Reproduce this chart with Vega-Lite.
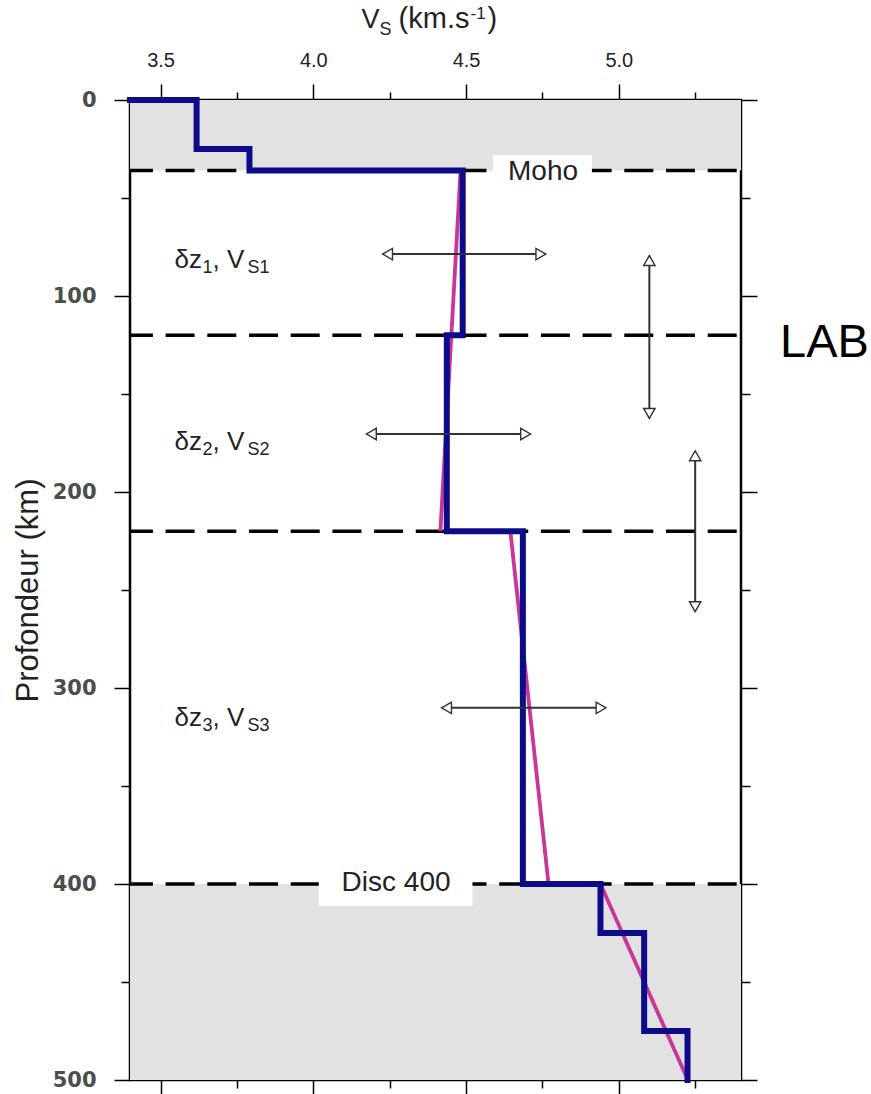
{
  "$schema": "https://vega.github.io/schema/vega-lite/v6.json",
  "width": 611,
  "height": 980,
  "autosize": {"type": "none"},
  "padding": {"left": 130, "top": 100, "right": 130, "bottom": 14},
  "background": "white",
  "config": {
    "view": {"stroke": "black", "strokeWidth": 2.5},
    "axis": {"grid": false, "domain": false, "tickColor": "black", "tickWidth": 1.5, "labelFont": "Liberation Sans", "titleFont": "Liberation Sans", "labelFlush": false}
  },
  "resolve": {"axis": {"x": "independent", "y": "independent"}},
  "datasets": {
    "zones": [
      {"v_min": 3.4, "v_max": 5.4, "top": 0, "bottom": 36},
      {"v_min": 3.4, "v_max": 5.4, "top": 400, "bottom": 500}
    ],
    "interfaces": [
      {"name": "Moho", "depth": 36},
      {"name": "LAB", "depth": 120},
      {"name": "base z2", "depth": 220},
      {"name": "Disc 400", "depth": 400}
    ],
    "label_boxes": [
      {"label": "Moho", "v_min": 4.588, "v_max": 4.912, "top": 28, "bottom": 47.4, "v": 4.752, "baseline_depth": 40.9},
      {"label": "Disc 400", "v_min": 4.018, "v_max": 4.521, "top": 386.2, "bottom": 411.2, "v": 4.271, "baseline_depth": 403.4}
    ],
    "model": [
      {"step": 0, "v": 3.4, "depth": 0},
      {"step": 1, "v": 3.618, "depth": 0},
      {"step": 2, "v": 3.618, "depth": 25},
      {"step": 3, "v": 3.791, "depth": 25},
      {"step": 4, "v": 3.791, "depth": 36},
      {"step": 5, "v": 4.489, "depth": 36},
      {"step": 6, "v": 4.489, "depth": 120},
      {"step": 7, "v": 4.437, "depth": 120},
      {"step": 8, "v": 4.437, "depth": 220},
      {"step": 9, "v": 4.686, "depth": 220},
      {"step": 10, "v": 4.686, "depth": 400},
      {"step": 11, "v": 4.94, "depth": 400},
      {"step": 12, "v": 4.94, "depth": 425},
      {"step": 13, "v": 5.083, "depth": 425},
      {"step": 14, "v": 5.083, "depth": 475},
      {"step": 15, "v": 5.225, "depth": 475},
      {"step": 16, "v": 5.225, "depth": 500}
    ],
    "gradient": [
      {"segment": "A", "v": 4.482, "depth": 36},
      {"segment": "A", "v": 4.416, "depth": 220},
      {"segment": "B", "v": 4.645, "depth": 220},
      {"segment": "B", "v": 4.77, "depth": 400},
      {"segment": "C", "v": 4.94, "depth": 400},
      {"segment": "C", "v": 5.226, "depth": 500}
    ],
    "h_arrows": [
      {"depth": 78.6, "lo": 4.227, "hi": 4.761},
      {"depth": 170.4, "lo": 4.174, "hi": 4.711},
      {"depth": 310.1, "lo": 4.42, "hi": 4.958}
    ],
    "v_arrows": [
      {"v": 5.1, "top": 79.4, "bottom": 162.4},
      {"v": 5.25, "top": 179, "bottom": 261}
    ],
    "layer_labels": [
      {"z": "δz", "n": "1", "vpart": ", V", "vsub": "S1", "v": 3.546, "depth": 85.8},
      {"z": "δz", "n": "2", "vpart": ", V", "vsub": "S2", "v": 3.546, "depth": 178.6},
      {"z": "δz", "n": "3", "vpart": ", V", "vsub": "S3", "v": 3.546, "depth": 319.6}
    ],
    "title": [
      {"main": "V", "sub": "S", "unit": "(km.s", "exp": "-1", "close": ")", "v": 4.158, "depth": -36.9}
    ],
    "side": [
      {"text": "LAB", "v": 5.528, "depth": 130.9}
    ]
  },
  "layer": [
    {
      "data": {"name": "zones"},
      "mark": {"type": "rect", "color": "#e2e2e2"},
      "encoding": {
        "x": {"field": "v_min", "type": "quantitative", "scale": {"domain": [3.4, 5.4], "nice": false, "zero": false},
          "axis": {"orient": "top", "values": [3.5, 4.0, 4.5, 5.0], "format": ".1f", "tickSize": 16, "labelFontSize": 20, "labelPadding": 14, "labelColor": "#222", "title": null}},
        "x2": {"field": "v_max"},
        "y": {"field": "top", "type": "quantitative", "scale": {"domain": [0, 500], "reverse": true, "nice": false, "zero": false},
          "axis": {"orient": "left", "values": [0, 100, 200, 300, 400, 500], "tickSize": 16, "labelPadding": 18, "labelFont": "DejaVu Sans", "labelFontWeight": "bold", "labelFontSize": 21, "labelColor": "#4d4d4d", "title": "Profondeur (km)", "titleFontSize": 31, "titleFontWeight": "normal", "titleColor": "#222", "titlePadding": 8}},
        "y2": {"field": "bottom"}
      }
    },
    {
      "data": {"name": "interfaces"},
      "mark": {"type": "rule", "color": "black", "strokeWidth": 3.5, "strokeDash": [29, 12.7], "strokeDashOffset": 37.4},
      "encoding": {
        "y": {"field": "depth", "type": "quantitative",
          "axis": {"orient": "left", "values": [50, 150, 250, 350, 450], "tickSize": 9, "labels": false, "title": null}}
      }
    },
    {
      "data": {"name": "label_boxes"},
      "mark": {"type": "rect", "color": "white"},
      "encoding": {
        "x": {"field": "v_min", "type": "quantitative",
          "axis": {"orient": "top", "values": [3.75, 4.25, 4.75, 5.25], "tickSize": 8, "labels": false, "title": null}},
        "x2": {"field": "v_max"},
        "y": {"field": "top", "type": "quantitative",
          "axis": {"orient": "right", "values": [0, 100, 200, 300, 400, 500], "tickSize": 16, "labels": false, "title": null}},
        "y2": {"field": "bottom"}
      }
    },
    {
      "data": {"name": "label_boxes"},
      "mark": {"type": "text", "font": "Liberation Sans", "fontSize": 28, "color": "#222", "align": "center", "baseline": "alphabetic"},
      "encoding": {
        "x": {"field": "v", "type": "quantitative",
          "axis": {"orient": "bottom", "values": [3.5, 4.0, 4.5, 5.0], "tickSize": 16, "labels": false, "title": null}},
        "y": {"field": "baseline_depth", "type": "quantitative",
          "axis": {"orient": "right", "values": [50, 150, 250, 350, 450], "tickSize": 9, "labels": false, "title": null}},
        "text": {"field": "label"}
      }
    },
    {
      "data": {"name": "gradient"},
      "mark": {"type": "line", "color": "#c8369a", "strokeWidth": 3.8},
      "encoding": {
        "x": {"field": "v", "type": "quantitative",
          "axis": {"orient": "bottom", "values": [3.75, 4.25, 4.75, 5.25], "tickSize": 8, "labels": false, "title": null}},
        "y": {"field": "depth", "type": "quantitative", "axis": null},
        "detail": {"field": "segment", "type": "nominal"},
        "order": {"field": "depth", "type": "quantitative"}
      }
    },
    {
      "data": {"name": "model"},
      "mark": {"type": "line", "color": "#0c0c8a", "strokeWidth": 6, "strokeJoin": "miter", "strokeCap": "square"},
      "encoding": {
        "x": {"field": "v", "type": "quantitative", "axis": null},
        "y": {"field": "depth", "type": "quantitative", "axis": null},
        "order": {"field": "step", "type": "quantitative"}
      }
    },
    {
      "data": {"name": "h_arrows"},
      "mark": {"type": "rule", "color": "#333", "strokeWidth": 2},
      "encoding": {
        "x": {"field": "lo", "type": "quantitative", "axis": null},
        "x2": {"field": "hi"},
        "y": {"field": "depth", "type": "quantitative", "axis": null}
      }
    },
    {
      "data": {"name": "h_arrows"},
      "mark": {"type": "point", "shape": "triangle-left", "filled": true, "fill": "white", "stroke": "#333", "strokeWidth": 1.4, "size": 130, "opacity": 1, "xOffset": 4.9},
      "encoding": {
        "x": {"field": "lo", "type": "quantitative", "axis": null},
        "y": {"field": "depth", "type": "quantitative", "axis": null}
      }
    },
    {
      "data": {"name": "h_arrows"},
      "mark": {"type": "point", "shape": "triangle-right", "filled": true, "fill": "white", "stroke": "#333", "strokeWidth": 1.4, "size": 130, "opacity": 1, "xOffset": -4.9},
      "encoding": {
        "x": {"field": "hi", "type": "quantitative", "axis": null},
        "y": {"field": "depth", "type": "quantitative", "axis": null}
      }
    },
    {
      "data": {"name": "v_arrows"},
      "mark": {"type": "rule", "color": "#333", "strokeWidth": 2},
      "encoding": {
        "x": {"field": "v", "type": "quantitative", "axis": null},
        "y": {"field": "top", "type": "quantitative", "axis": null},
        "y2": {"field": "bottom"}
      }
    },
    {
      "data": {"name": "v_arrows"},
      "mark": {"type": "point", "shape": "triangle-up", "filled": true, "fill": "white", "stroke": "#333", "strokeWidth": 1.4, "size": 130, "opacity": 1, "yOffset": 4.9},
      "encoding": {
        "x": {"field": "v", "type": "quantitative", "axis": null},
        "y": {"field": "top", "type": "quantitative", "axis": null}
      }
    },
    {
      "data": {"name": "v_arrows"},
      "mark": {"type": "point", "shape": "triangle-down", "filled": true, "fill": "white", "stroke": "#333", "strokeWidth": 1.4, "size": 130, "opacity": 1, "yOffset": -4.9},
      "encoding": {
        "x": {"field": "v", "type": "quantitative", "axis": null},
        "y": {"field": "bottom", "type": "quantitative", "axis": null}
      }
    },
    {
      "data": {"name": "layer_labels"},
      "mark": {"type": "text", "font": "Liberation Sans", "fontSize": 26, "color": "#222", "align": "left", "baseline": "alphabetic"},
      "encoding": {
        "x": {"field": "v", "type": "quantitative", "axis": null},
        "y": {"field": "depth", "type": "quantitative", "axis": null},
        "text": {"field": "z"}
      }
    },
    {
      "data": {"name": "layer_labels"},
      "mark": {"type": "text", "font": "Liberation Sans", "fontSize": 18, "color": "#222", "align": "left", "baseline": "alphabetic", "dx": 28, "dy": 5},
      "encoding": {
        "x": {"field": "v", "type": "quantitative", "axis": null},
        "y": {"field": "depth", "type": "quantitative", "axis": null},
        "text": {"field": "n"}
      }
    },
    {
      "data": {"name": "layer_labels"},
      "mark": {"type": "text", "font": "Liberation Sans", "fontSize": 26, "color": "#222", "align": "left", "baseline": "alphabetic", "dx": 38},
      "encoding": {
        "x": {"field": "v", "type": "quantitative", "axis": null},
        "y": {"field": "depth", "type": "quantitative", "axis": null},
        "text": {"field": "vpart"}
      }
    },
    {
      "data": {"name": "layer_labels"},
      "mark": {"type": "text", "font": "Liberation Sans", "fontSize": 18, "color": "#222", "align": "left", "baseline": "alphabetic", "dx": 73, "dy": 5},
      "encoding": {
        "x": {"field": "v", "type": "quantitative", "axis": null},
        "y": {"field": "depth", "type": "quantitative", "axis": null},
        "text": {"field": "vsub"}
      }
    },
    {
      "data": {"name": "title"},
      "mark": {"type": "text", "font": "Liberation Sans", "fontSize": 27, "color": "#222", "align": "left", "baseline": "alphabetic"},
      "encoding": {
        "x": {"field": "v", "type": "quantitative", "axis": null},
        "y": {"field": "depth", "type": "quantitative", "axis": null},
        "text": {"field": "main"}
      }
    },
    {
      "data": {"name": "title"},
      "mark": {"type": "text", "font": "Liberation Sans", "fontSize": 18, "color": "#222", "align": "left", "baseline": "alphabetic", "dx": 18, "dy": 7},
      "encoding": {
        "x": {"field": "v", "type": "quantitative", "axis": null},
        "y": {"field": "depth", "type": "quantitative", "axis": null},
        "text": {"field": "sub"}
      }
    },
    {
      "data": {"name": "title"},
      "mark": {"type": "text", "font": "Liberation Sans", "fontSize": 29, "color": "#222", "align": "left", "baseline": "alphabetic", "dx": 37},
      "encoding": {
        "x": {"field": "v", "type": "quantitative", "axis": null},
        "y": {"field": "depth", "type": "quantitative", "axis": null},
        "text": {"field": "unit"}
      }
    },
    {
      "data": {"name": "title"},
      "mark": {"type": "text", "font": "Liberation Sans", "fontSize": 17, "color": "#222", "align": "left", "baseline": "alphabetic", "dx": 109, "dy": -9},
      "encoding": {
        "x": {"field": "v", "type": "quantitative", "axis": null},
        "y": {"field": "depth", "type": "quantitative", "axis": null},
        "text": {"field": "exp"}
      }
    },
    {
      "data": {"name": "title"},
      "mark": {"type": "text", "font": "Liberation Sans", "fontSize": 29, "color": "#222", "align": "left", "baseline": "alphabetic", "dx": 126},
      "encoding": {
        "x": {"field": "v", "type": "quantitative", "axis": null},
        "y": {"field": "depth", "type": "quantitative", "axis": null},
        "text": {"field": "close"}
      }
    },
    {
      "data": {"name": "side"},
      "mark": {"type": "text", "font": "Liberation Sans", "fontSize": 47, "color": "black", "align": "left", "baseline": "alphabetic"},
      "encoding": {
        "x": {"field": "v", "type": "quantitative", "axis": null},
        "y": {"field": "depth", "type": "quantitative", "axis": null},
        "text": {"field": "text"}
      }
    }
  ]
}
